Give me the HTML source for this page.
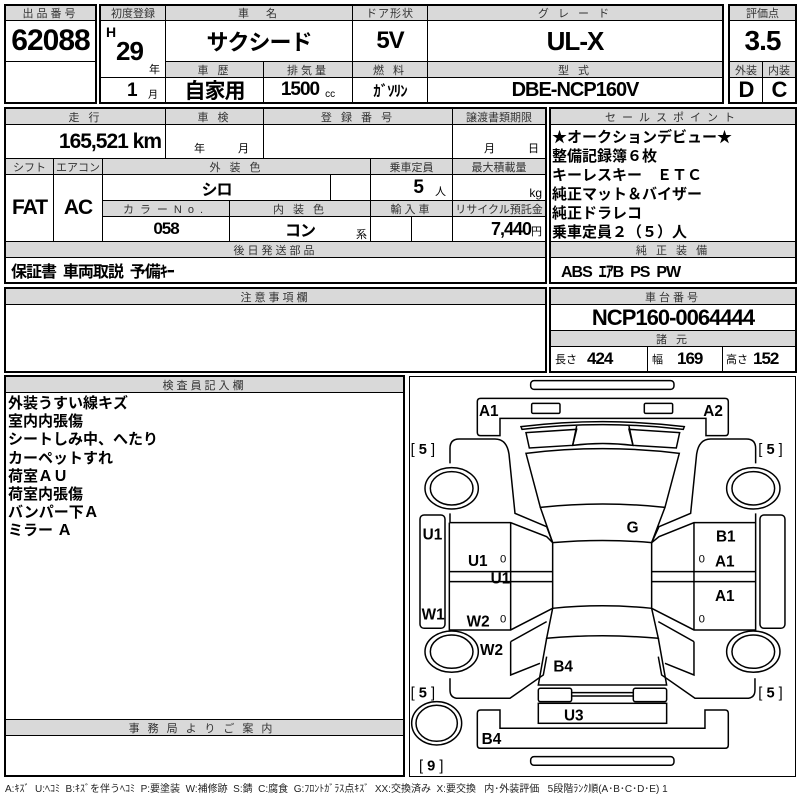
<!DOCTYPE html>
<html><head><meta charset="utf-8">
<style>
*{margin:0;padding:0;box-sizing:border-box}
body{width:800px;height:800px;background:#fff;position:relative;overflow:hidden;font-family:"Liberation Sans","Noto Sans CJK JP",sans-serif;color:#000}
.c{position:absolute;border:1px solid #000;display:flex;align-items:center;justify-content:center;white-space:nowrap}
.h{background:#d9d9d9;font-size:11px;color:#333;letter-spacing:3px}
.o{position:absolute;border:2px solid #000}
.v{font-family:"Liberation Sans Narrow","Liberation Sans","Noto Sans CJK JP",sans-serif;font-weight:bold;letter-spacing:-1px}
.t{position:absolute;white-space:nowrap}
</style></head><body>
<!-- top block -->
<div class="c h" style="left:5px;top:5px;width:91px;height:16px">出品番号</div>
<div class="c v" style="left:5px;top:20px;width:91px;height:42px;font-size:30px">62088</div>
<div class="c" style="left:5px;top:61px;width:91px;height:42px"></div>
<div class="o" style="left:4px;top:4px;width:93px;height:100px"></div>

<div class="c h" style="left:100px;top:5px;width:66px;height:16px;letter-spacing:0">初度登録</div>
<div class="c h" style="left:165px;top:5px;width:188px;height:16px">車　名</div>
<div class="c h" style="left:352px;top:5px;width:76px;height:16px;letter-spacing:1px">ドア形状</div>
<div class="c h" style="left:427px;top:5px;width:296px;height:16px">グ レ ー ド</div>
<div class="c" style="left:100px;top:20px;width:66px;height:58px"></div>
<div class="t v" style="left:106px;top:24px;font-size:14px">H</div>
<div class="t v" style="left:116px;top:36px;font-size:26px">29</div>
<div class="t" style="left:149px;top:61px;font-size:11px">年</div>
<div class="c" style="left:100px;top:77px;width:66px;height:26px"></div>
<div class="t v" style="left:127px;top:80px;font-size:19px">1</div>
<div class="t" style="left:148px;top:86px;font-size:10px">月</div>
<div class="c v" style="left:165px;top:20px;width:188px;height:42px;font-size:22px">サクシード</div>
<div class="c v" style="left:352px;top:20px;width:76px;height:42px;font-size:24px">5V</div>
<div class="c v" style="left:427px;top:20px;width:296px;height:42px;font-size:26px">UL-X</div>
<div class="c h" style="left:165px;top:61px;width:99px;height:17px">車 歴</div>
<div class="c h" style="left:263px;top:61px;width:90px;height:17px">排気量</div>
<div class="c h" style="left:352px;top:61px;width:76px;height:17px">燃 料</div>
<div class="c h" style="left:427px;top:61px;width:296px;height:17px">型 式</div>
<div class="c v" style="left:165px;top:77px;width:99px;height:26px;font-size:21px">自家用</div>
<div class="c" style="left:263px;top:77px;width:90px;height:26px"><span class="v" style="font-size:19px">1500</span><span style="font-size:10px;margin-left:6px;margin-top:8px">cc</span></div>
<div class="c v" style="left:352px;top:77px;width:76px;height:26px;font-size:15px">ｶﾞｿﾘﾝ</div>
<div class="c v" style="left:427px;top:77px;width:296px;height:26px;font-size:20px">DBE-NCP160V</div>
<div class="o" style="left:99px;top:4px;width:625px;height:100px"></div>

<div class="c h" style="left:729px;top:5px;width:67px;height:16px;letter-spacing:0">評価点</div>
<div class="c v" style="left:729px;top:20px;width:67px;height:42px;font-size:28px">3.5</div>
<div class="c h" style="left:729px;top:61px;width:34px;height:17px;letter-spacing:0">外装</div>
<div class="c h" style="left:762px;top:61px;width:34px;height:17px;letter-spacing:0">内装</div>
<div class="c v" style="left:729px;top:77px;width:34px;height:26px;font-size:22px">D</div>
<div class="c v" style="left:762px;top:77px;width:34px;height:26px;font-size:22px">C</div>
<div class="o" style="left:728px;top:4px;width:69px;height:100px"></div>

<!-- block 2 -->
<div class="c h" style="left:5px;top:108px;width:161px;height:17px">走 行</div>
<div class="c h" style="left:165px;top:108px;width:99px;height:17px">車 検</div>
<div class="c h" style="left:263px;top:108px;width:190px;height:17px">登 録 番 号</div>
<div class="c h" style="left:452px;top:108px;width:94px;height:17px;letter-spacing:0">譲渡書類期限</div>
<div class="c" style="left:5px;top:124px;width:161px;height:35px;justify-content:flex-end;padding-right:4px"><span class="v" style="font-size:21px">165,521 km</span></div>
<div class="c" style="left:165px;top:124px;width:99px;height:35px;align-items:flex-end;font-size:11px;padding-bottom:2px;padding-left:14px">年　　　月</div>
<div class="c" style="left:263px;top:124px;width:190px;height:35px"></div>
<div class="c" style="left:452px;top:124px;width:94px;height:35px;align-items:flex-end;font-size:11px;padding-bottom:2px;justify-content:flex-end;padding-right:6px">月　　　日</div>
<div class="c h" style="left:5px;top:158px;width:49px;height:17px;letter-spacing:0">シフト</div>
<div class="c h" style="left:53px;top:158px;width:50px;height:17px;letter-spacing:0">エアコン</div>
<div class="c h" style="left:102px;top:158px;width:269px;height:17px">外 装 色</div>
<div class="c h" style="left:370px;top:158px;width:83px;height:17px;letter-spacing:0">乗車定員</div>
<div class="c h" style="left:452px;top:158px;width:94px;height:17px;letter-spacing:0">最大積載量</div>
<div class="c v" style="left:5px;top:174px;width:49px;height:68px;font-size:21px">FAT</div>
<div class="c v" style="left:53px;top:174px;width:50px;height:68px;font-size:21px">AC</div>
<div class="c v" style="left:102px;top:174px;width:229px;height:27px;font-size:16px">シロ</div>
<div class="c" style="left:330px;top:174px;width:41px;height:27px"></div>
<div class="c" style="left:370px;top:174px;width:83px;height:27px;justify-content:flex-end;padding-right:6px"><span class="v" style="font-size:19px">5</span><span style="font-size:11px;margin-left:12px;margin-top:6px">人</span></div>
<div class="c" style="left:452px;top:174px;width:94px;height:27px;justify-content:flex-end;align-items:flex-end;padding-right:3px;font-size:12px">kg</div>
<div class="c h" style="left:102px;top:200px;width:128px;height:17px;letter-spacing:6px">カラーNo.</div>
<div class="c h" style="left:229px;top:200px;width:142px;height:17px">内 装 色</div>
<div class="c h" style="left:370px;top:200px;width:83px;height:17px">輸入車</div>
<div class="c h" style="left:452px;top:200px;width:94px;height:17px;letter-spacing:0">リサイクル預託金</div>
<div class="c v" style="left:102px;top:216px;width:128px;height:26px;font-size:17px">058</div>
<div class="c v" style="left:229px;top:216px;width:142px;height:26px;font-size:16px">コン</div>
<div class="t" style="left:356px;top:226px;font-size:11px">系</div>
<div class="c" style="left:370px;top:216px;width:42px;height:26px"></div>
<div class="c" style="left:411px;top:216px;width:42px;height:26px"></div>
<div class="c" style="left:452px;top:216px;width:94px;height:26px;justify-content:flex-end;padding-right:3px"><span class="v" style="font-size:18px">7,440</span><span style="font-size:11px;margin-top:4px">円</span></div>
<div class="c h" style="left:5px;top:241px;width:541px;height:17px">後日発送部品</div>
<div class="c v" style="left:5px;top:257px;width:541px;height:26px;font-size:16px;justify-content:flex-start;padding-left:5px">保証書&nbsp; 車両取説&nbsp; 予備ｷｰ</div>
<div class="o" style="left:4px;top:107px;width:543px;height:177px"></div>

<div class="c h" style="left:550px;top:108px;width:246px;height:17px;letter-spacing:6px">セールスポイント</div>
<div class="c" style="left:550px;top:124px;width:246px;height:118px"></div>
<div class="t" style="left:552px;top:128px;font-size:15px;font-weight:bold;line-height:19px">★オークションデビュー★<br>整備記録簿６枚<br>キーレスキー　ＥＴＣ<br>純正マット＆バイザー<br>純正ドラレコ<br>乗車定員２（５）人</div>
<div class="c h" style="left:550px;top:241px;width:246px;height:17px">純 正 装 備</div>
<div class="c v" style="left:550px;top:257px;width:246px;height:26px;font-size:16px;justify-content:flex-start;padding-left:10px">ABS&nbsp; ｴｱB&nbsp; PS&nbsp; PW</div>
<div class="o" style="left:549px;top:107px;width:248px;height:177px"></div>

<!-- block 3 -->
<div class="c h" style="left:5px;top:288px;width:541px;height:17px">注意事項欄</div>
<div class="c" style="left:5px;top:304px;width:541px;height:68px"></div>
<div class="o" style="left:4px;top:287px;width:543px;height:86px"></div>
<div class="c h" style="left:550px;top:288px;width:246px;height:17px">車台番号</div>
<div class="c v" style="left:550px;top:304px;width:246px;height:27px;font-size:22px">NCP160-0064444</div>
<div class="c h" style="left:550px;top:330px;width:246px;height:17px">諸 元</div>
<div class="c" style="left:550px;top:346px;width:98px;height:26px;justify-content:flex-start;padding-left:4px"><span style="font-size:11px">長さ</span><span class="v" style="font-size:17px;margin-left:10px">424</span></div>
<div class="c" style="left:647px;top:346px;width:76px;height:26px;justify-content:flex-start;padding-left:4px"><span style="font-size:11px">幅</span><span class="v" style="font-size:17px;margin-left:14px">169</span></div>
<div class="c" style="left:722px;top:346px;width:74px;height:26px;justify-content:flex-start;padding-left:3px"><span style="font-size:11px">高さ</span><span class="v" style="font-size:17px;margin-left:5px">152</span></div>
<div class="o" style="left:549px;top:287px;width:248px;height:86px"></div>

<!-- block 4 -->
<div class="c h" style="left:5px;top:376px;width:399px;height:17px">検査員記入欄</div>
<div class="t" style="left:8px;top:395px;font-size:15px;font-weight:bold;line-height:18.2px">外装うすい線キズ<br>室内内張傷<br>シートしみ中、へたり<br>カーペットすれ<br>荷室ＡＵ<br>荷室内張傷<br>バンパー下Ａ<br>ミラー Ａ</div>
<div class="c h" style="left:5px;top:719px;width:399px;height:17px;letter-spacing:8px">事務局よりご案内</div>
<div class="o" style="left:4px;top:375px;width:401px;height:402px"></div>
<div class="o" style="left:409px;top:376px;width:387px;height:401px;border-width:1.5px"></div>
<div class="t" style="left:5px;top:780px;font-size:10px;color:#222">A:ｷｽﾞ&nbsp; U:ﾍｺﾐ&nbsp; B:ｷｽﾞを伴うﾍｺﾐ&nbsp; P:要塗装&nbsp; W:補修跡&nbsp; S:錆&nbsp; C:腐食&nbsp; G:ﾌﾛﾝﾄｶﾞﾗｽ点ｷｽﾞ&nbsp; XX:交換済み&nbsp; X:要交換&nbsp;&nbsp; 内･外装評価&nbsp;&nbsp; 5段階ﾗﾝｸ順(A･B･C･D･E) 1</div>

<svg style="position:absolute;left:0;top:0" width="800" height="800">
<g transform="translate(400,370) scale(0.3333)" fill="none" stroke="#000" stroke-width="4.5">
<rect x="392" y="32" width="430" height="26" rx="10"/>
<path d="M232,95 q0,-10 10,-10 H975 q10,0 10,10 V187 q0,10 -10,10 H918 V145 H300 V197 H242 q-10,0 -10,-10 Z"/>
<rect x="395" y="100" width="85" height="30" rx="4"/>
<rect x="733" y="100" width="85" height="30" rx="4"/>
<path d="M363,170 Q608,140 853,170 L850,178 Q608,150 366,178 Z"/>
<path d="M378,188 L530,178 L518,226 L388,234 Z"/>
<path d="M839,188 L687,178 L699,226 L829,234 Z"/>
<path d="M530,168 L518,226 Q608,215 699,226 L687,168"/>
<path d="M378,250 Q608,222 838,250 L795,412 Q608,392 421,412 Z"/>
<path d="M421,412 L458,518 Q608,505 755,518 L795,412"/>
<path d="M458,518 V715 Q608,700 755,715 V518"/>
<path d="M458,715 L440,805 Q608,790 775,805 L755,715"/>
<path d="M440,805 L415,945 H800 L775,805"/>
<rect x="415" y="955" width="100" height="40" rx="6"/>
<rect x="700" y="955" width="100" height="40" rx="6"/>
<path d="M515,968 H700 M515,978 H700"/>
<rect x="415" y="1000" width="385" height="60"/>
<path d="M232,1030 q0,-10 10,-10 H300 V1075 H915 V1020 H975 q10,0 10,10 V1125 q0,10 -10,10 H242 q-10,0 -10,-10 Z"/>
<rect x="392" y="1160" width="430" height="26" rx="10"/>
<path d="M150,280 V235 q0,-28 28,-28 H285 q35,0 42,45 L345,430 L440,470 L458,518"/>
<path d="M150,430 V458 H332 L440,500 L458,518 M148,458 V780 H332 L458,715"/>
<path d="M332,458 V780 M148,605 H458 M148,635 H458"/>
<ellipse cx="155" cy="355" rx="80" ry="62"/><ellipse cx="155" cy="355" rx="64" ry="50"/>
<ellipse cx="155" cy="845" rx="80" ry="62"/><ellipse cx="155" cy="845" rx="64" ry="50"/>
<rect x="60" y="435" width="75" height="340" rx="12"/>
<path d="M332,815 L440,755 M332,815 V915 L420,880"/>
<path d="M150,925 V960 q0,25 25,25 H330 L430,915 L440,860"/>
<path d="M1067,280 V235 q0,-28 -28,-28 H932 q-35,0 -42,45 L872,430 L777,470 L755,518"/>
<path d="M1067,430 V458 H882 L777,500 L755,518 M1067,458 V780 H882 L755,715"/>
<path d="M882,458 V780 M1067,605 H755 M1067,635 H755"/>
<ellipse cx="1060" cy="355" rx="80" ry="62"/><ellipse cx="1060" cy="355" rx="64" ry="50"/>
<ellipse cx="1060" cy="845" rx="80" ry="62"/><ellipse cx="1060" cy="845" rx="64" ry="50"/>
<rect x="1080" y="435" width="75" height="340" rx="12"/>
<path d="M882,815 L775,755 M882,815 V915 L795,880"/>
<path d="M1065,925 V960 q0,25 -25,25 H885 L785,915 L775,860"/>
<ellipse cx="110" cy="1060" rx="75" ry="65"/><ellipse cx="110" cy="1060" rx="62" ry="54"/>
</g>
<g transform="translate(400,370) scale(0.3333)" font-family="Liberation Sans, sans-serif" font-weight="bold" font-size="46" fill="#000">
<text x="237" y="138">A1</text><text x="910" y="138">A2</text>
<text x="680" y="488">G</text>
<text x="68" y="508">U1</text><text x="204" y="588">U1</text><text x="272" y="640">U1</text>
<text x="948" y="515">B1</text><text x="945" y="590">A1</text><text x="945" y="693">A1</text>
<text x="65" y="748">W1</text><text x="200" y="770">W2</text><text x="240" y="855">W2</text>
<text x="460" y="905">B4</text><text x="492" y="1052">U3</text><text x="245" y="1122">B4</text>
<g font-weight="normal" font-size="34"><text x="300" y="578">0</text><text x="300" y="758">0</text><text x="896" y="578">0</text><text x="896" y="758">0</text></g>
<g font-size="44"><text x="32" y="252"><tspan font-weight="normal">[</tspan> 5 <tspan font-weight="normal">]</tspan></text>
<text x="1075" y="252"><tspan font-weight="normal">[</tspan> 5 <tspan font-weight="normal">]</tspan></text>
<text x="32" y="982"><tspan font-weight="normal">[</tspan> 5 <tspan font-weight="normal">]</tspan></text>
<text x="1075" y="982"><tspan font-weight="normal">[</tspan> 5 <tspan font-weight="normal">]</tspan></text>
<text x="57" y="1202"><tspan font-weight="normal">[</tspan> 9 <tspan font-weight="normal">]</tspan></text></g>
</g>
</svg>
</body></html>
